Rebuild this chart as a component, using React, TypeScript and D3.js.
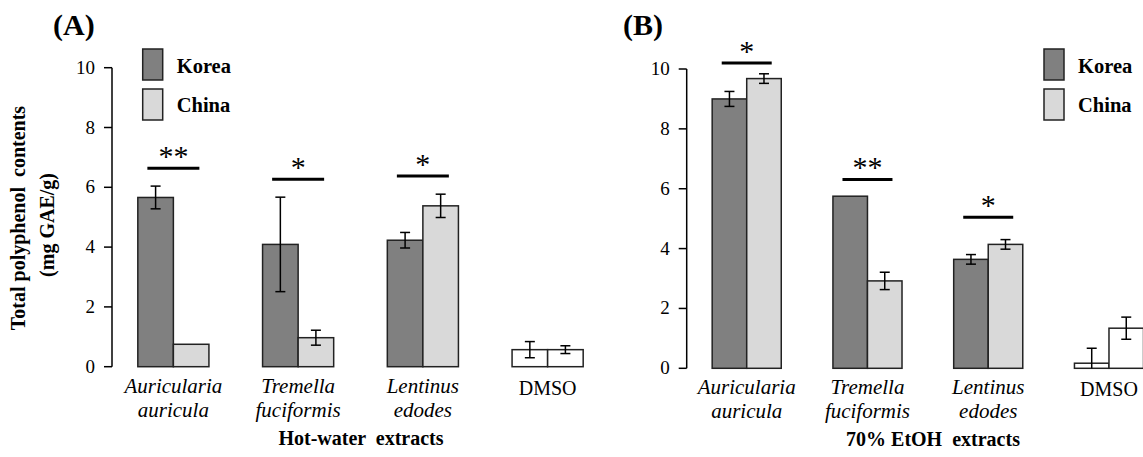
import * as d3 from "d3";

// categories (two-line italic labels, DMSO plain)
const categories = ["Auricularia auricula", "Tremella fuciformis", "Lentinus edodes", "DMSO"];
const series = ["Korea", "China"];

// Hot-water extracts (A)
const hotKorea = [5.66, 4.09, 4.23, 0.57];
const hotKoreaErr = [0.38, 1.58, 0.26, 0.27];
const hotChina = [0.75, 0.97, 5.38, 0.57];
const hotChinaErr = [0, 0.25, 0.39, 0.13];
const hotSig = ["**", "*", "*"];
const hotSigLevel = [6.64, 6.27, 6.38];

// 70% EtOH extracts (B)
const etohKorea = [9.0, 5.75, 3.64, 0.17];
const etohKoreaErr = [0.25, 0, 0.16, 0.5];
const etohChina = [9.68, 2.92, 4.14, 1.34];
const etohChinaErr = [0.16, 0.29, 0.16, 0.37];
const etohSig = ["*", "**", "*"];
const etohSigLevel = [10.2, 6.31, 5.05];

const yTicks = [0, 2, 4, 6, 8, 10];

const colors: Record<string, string> = { Korea: "#808080", China: "#d9d9d9" };
const SERIF = "'Liberation Serif', 'Times New Roman', serif";

type PanelProps = {
  letter: string;
  letterX: number;
  title: string;
  titleX: number;
  axisX: number;
  xEnd: number;
  yBottom: number;
  yTop: number;
  padIn: number;
  padOut: number;
  legendX: number;
  sigWidth: number;
  korea: number[];
  koreaErr: number[];
  china: number[];
  chinaErr: number[];
  sig: string[];
  sigLevel: number[];
};

function Panel(p: PanelProps) {
  const y = d3.scaleLinear().domain([0, 10]).range([p.yBottom, p.yTop]);
  const x = d3
    .scaleBand<string>()
    .domain(categories)
    .range([p.axisX, p.xEnd])
    .paddingInner(p.padIn)
    .paddingOuter(p.padOut);
  const xs = d3.scaleBand<string>().domain(series).range([0, x.bandwidth()]);

  const rows = categories.map((c, i) => ({
    cat: c,
    vals: [
      { s: "Korea", v: p.korea[i], e: p.koreaErr[i] },
      { s: "China", v: p.china[i], e: p.chinaErr[i] },
    ],
  }));

  return (
    <g>
      <text x={p.letterX} y={35} fontFamily={SERIF} fontWeight="bold" fontSize={30}>
        {p.letter}
      </text>

      {/* y axis */}
      <line x1={p.axisX} x2={p.axisX} y1={y(0)} y2={y(10)} stroke="#000" strokeWidth={1.5} />
      {yTicks.map((t) => (
        <g key={t}>
          <line x1={p.axisX - 8} x2={p.axisX} y1={y(t)} y2={y(t)} stroke="#000" strokeWidth={1.5} />
          <text
            x={p.axisX - 17}
            y={y(t) + 6}
            textAnchor="end"
            fontFamily={SERIF}
            fontSize={19}
          >
            {t}
          </text>
        </g>
      ))}

      {/* bars */}
      {rows.map((r) => (
        <g key={r.cat}>
          {r.vals.map((d) => {
            const bx = (x(r.cat) || 0) + (xs(d.s) || 0);
            const cx = bx + xs.bandwidth() / 2;
            const fill = r.cat === "DMSO" ? "#ffffff" : colors[d.s];
            return (
              <g key={d.s}>
                <rect
                  x={bx}
                  y={y(d.v)}
                  width={xs.bandwidth()}
                  height={y(0) - y(d.v)}
                  fill={fill}
                  stroke="#222"
                  strokeWidth={1.5}
                />
                {d.e > 0 && (
                  <g stroke="#000" strokeWidth={1.5}>
                    <line x1={cx} x2={cx} y1={y(d.v + d.e)} y2={y(Math.max(0, d.v - d.e))} />
                    <line x1={cx - 5} x2={cx + 5} y1={y(d.v + d.e)} y2={y(d.v + d.e)} />
                    {d.v - d.e > 0 && (
                      <line x1={cx - 5} x2={cx + 5} y1={y(d.v - d.e)} y2={y(d.v - d.e)} />
                    )}
                  </g>
                )}
              </g>
            );
          })}
        </g>
      ))}

      {/* significance marks */}
      {p.sig.map((s, i) => {
        const cx = (x(categories[i]) || 0) + x.bandwidth() / 2;
        const ly = y(p.sigLevel[i]);
        return (
          <g key={i}>
            <line x1={cx - p.sigWidth / 2} x2={cx + p.sigWidth / 2} y1={ly} y2={ly} stroke="#000" strokeWidth={3} />
            <text x={cx} y={ly - 2} textAnchor="middle" fontFamily={SERIF} fontSize={30}>
              {s}
            </text>
          </g>
        );
      })}

      {/* category labels */}
      {categories.map((c) => {
        const cx = (x(c) || 0) + x.bandwidth() / 2;
        if (c === "DMSO") {
          return (
            <text key={c} x={cx} y={y(0) + 28} textAnchor="middle" fontFamily={SERIF} fontSize={20}>
              {c}
            </text>
          );
        }
        const parts = c.split(" ");
        return (
          <text key={c} textAnchor="middle" fontFamily={SERIF} fontStyle="italic" fontSize={21}>
            <tspan x={cx} y={y(0) + 26}>{parts[0]}</tspan>
            <tspan x={cx} y={y(0) + 50}>{parts[1]}</tspan>
          </text>
        );
      })}

      <text
        x={p.titleX}
        y={y(0) + 78}
        textAnchor="middle"
        fontFamily={SERIF}
        fontWeight="bold"
        fontSize={20}
        style={{ whiteSpace: "pre" }}
      >
        {p.title}
      </text>

      {/* legend */}
      {series.map((s, i) => (
        <g key={s}>
          <rect x={p.legendX} y={49 + i * 40} width={20} height={31} fill={colors[s]} stroke="#222" strokeWidth={1.5} />
          <text x={p.legendX + 34} y={73 + i * 39} fontFamily={SERIF} fontWeight="bold" fontSize={20.5}>
            {s}
          </text>
        </g>
      ))}
    </g>
  );
}

export default function App() {
  return (
    <svg
      width={1143}
      height={457}
      style={{ position: "absolute", left: 0, top: 0, background: "#fff" }}
    >
      <text
        transform="translate(25,218) rotate(-90)"
        textAnchor="middle"
        fontFamily={SERIF}
        fontWeight="bold"
        fontSize={20}
        style={{ whiteSpace: "pre" }}
      >
        {"Total polyphenol  contents"}
      </text>
      <text
        transform="translate(54,225) rotate(-90)"
        textAnchor="middle"
        fontFamily={SERIF}
        fontWeight="bold"
        fontSize={20}
      >
        (mg GAE/g)
      </text>
      <Panel
        letter="(A)"
        letterX={53}
        title="Hot-water  extracts"
        titleX={361}
        axisX={112}
        xEnd={609}
        yBottom={366.7}
        yTop={67.7}
        padIn={0.43}
        padOut={0.207}
        legendX={142.7}
        sigWidth={52}
        korea={hotKorea}
        koreaErr={hotKoreaErr}
        china={hotChina}
        chinaErr={hotChinaErr}
        sig={hotSig}
        sigLevel={hotSigLevel}
      />
      <Panel
        letter="(B)"
        letterX={623}
        title="70% EtOH  extracts"
        titleX={933}
        axisX={686.7}
        xEnd={1169}
        yBottom={368.3}
        yTop={69}
        padIn={0.428}
        padOut={0.211}
        legendX={1044}
        sigWidth={50}
        korea={etohKorea}
        koreaErr={etohKoreaErr}
        china={etohChina}
        chinaErr={etohChinaErr}
        sig={etohSig}
        sigLevel={etohSigLevel}
      />
    </svg>
  );
}
